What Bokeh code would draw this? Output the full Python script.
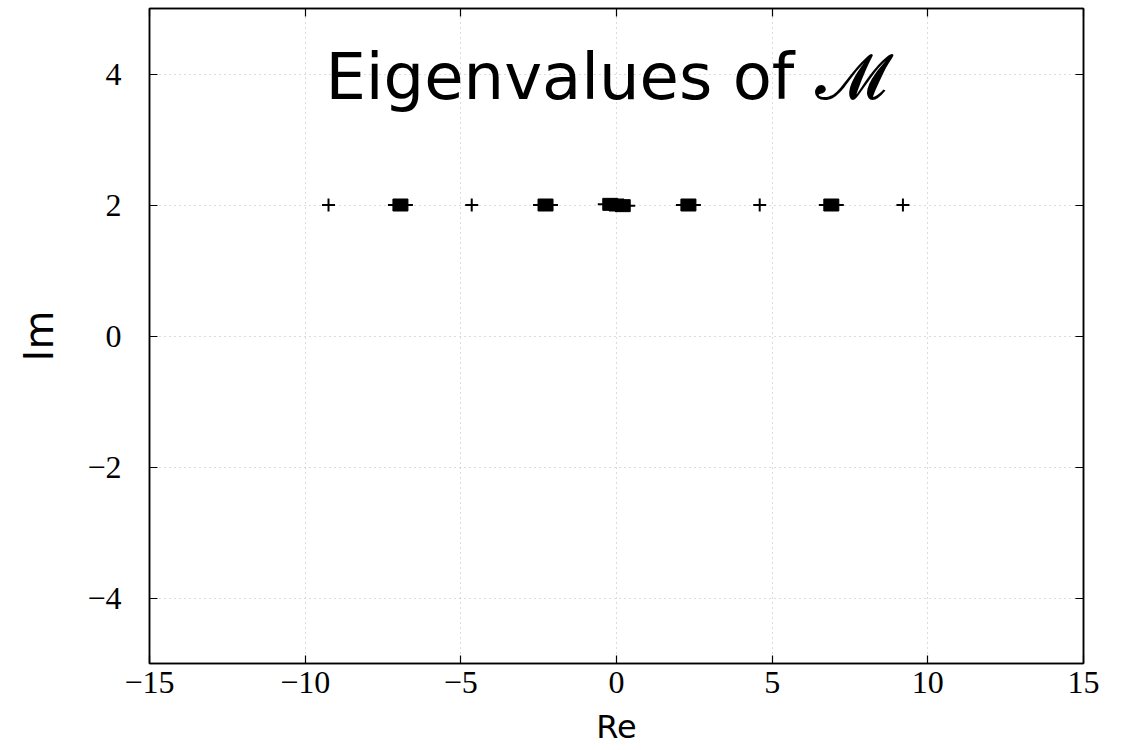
from bokeh.plotting import figure
from bokeh.models import LinearAxis, Label, CustomJSTickFormatter, FixedTicker, Range1d
from bokeh.embed import file_html
from bokeh.resources import INLINE

# data
plus_re = [-9.25, -4.65, 4.6, 9.2]
plus_im = [2.0, 2.0, 2.0, 2.0]
square_re = [-6.94, -2.28, -0.2, 0.0, 0.2, 2.31, 6.9]
square_im = [2.0, 2.0, 2.01, 2.0, 1.99, 2.0, 2.0]
x_ticks = [-15, -10, -5, 0, 5, 10, 15]
y_ticks = [-4, -2, 0, 2, 4]

p = figure(frame_width=934, frame_height=655, output_backend="svg", toolbar_location=None,
           x_range=Range1d(-15, 15), y_range=Range1d(-5, 5),
           min_border_left=149, min_border_top=8, min_border_right=20, min_border_bottom=10)
p.background_fill_color = "white"
p.outline_line_color = "black"
p.outline_line_width = 1.5

fmt = CustomJSTickFormatter(code="return (tick < 0 ? '\u2212' + Math.abs(tick) : '' + tick);")

for ax, ticks in ((p.xaxis[0], x_ticks), (p.yaxis[0], y_ticks)):
    ax.ticker = FixedTicker(ticks=ticks)
    ax.formatter = fmt
    ax.major_tick_in = 8
    ax.major_tick_out = 0
    ax.minor_tick_line_color = None
    ax.axis_line_color = "black"
    ax.axis_line_width = 1.5
    ax.major_tick_line_color = "black"
    ax.major_tick_line_width = 1.2
    ax.major_label_text_font = "Liberation Serif"
    ax.major_label_text_font_size = "32px"
    ax.major_label_text_color = "black"
    ax.axis_label_text_font = "DejaVu Sans"
    ax.axis_label_text_font_style = "normal"
    ax.axis_label_text_color = "black"

p.xaxis[0].axis_label = "Re"
p.yaxis[0].axis_label = "Im"
p.xaxis[0].axis_label_text_font_size = "32px"
p.yaxis[0].axis_label_text_font_size = "40px"
p.xaxis[0].major_label_standoff = 8
p.yaxis[0].major_label_standoff = 28
p.xaxis[0].axis_label_standoff = 12
p.yaxis[0].axis_label_standoff = 22

for loc, ticks in (("right", y_ticks), ("above", x_ticks)):
    ax = LinearAxis(ticker=FixedTicker(ticks=ticks), major_label_text_font_size="0px",
                    major_tick_in=8, major_tick_out=0, minor_tick_line_color=None,
                    axis_line_color="black", axis_line_width=1.5, major_tick_line_width=1.2)
    p.add_layout(ax, loc)

p.xgrid.ticker = FixedTicker(ticks=x_ticks)
p.ygrid.ticker = FixedTicker(ticks=y_ticks)
for g in (p.xgrid[0], p.ygrid[0]):
    g.grid_line_color = "#b8b8b8"
    g.grid_line_dash = "1 4"
    g.grid_line_width = 1

p.scatter(plus_re, plus_im, marker="cross", size=13, line_color="black", line_width=2)
p.scatter(square_re, square_im, marker="dash", size=25, line_color="black", line_width=2)
p.rect(square_re, square_im, width=15, height=12, width_units="screen", height_units="screen",
       fill_color="black", line_color="black")

title = Label(x=-9.35, y=3.95, text="Eigenvalues of \U0001D4DC", text_font="DejaVu Sans",
              text_font_size="64px", text_color="black", text_baseline="middle", text_align="left")
p.add_layout(title)

open("out.html", "w").write(file_html(p, INLINE))
